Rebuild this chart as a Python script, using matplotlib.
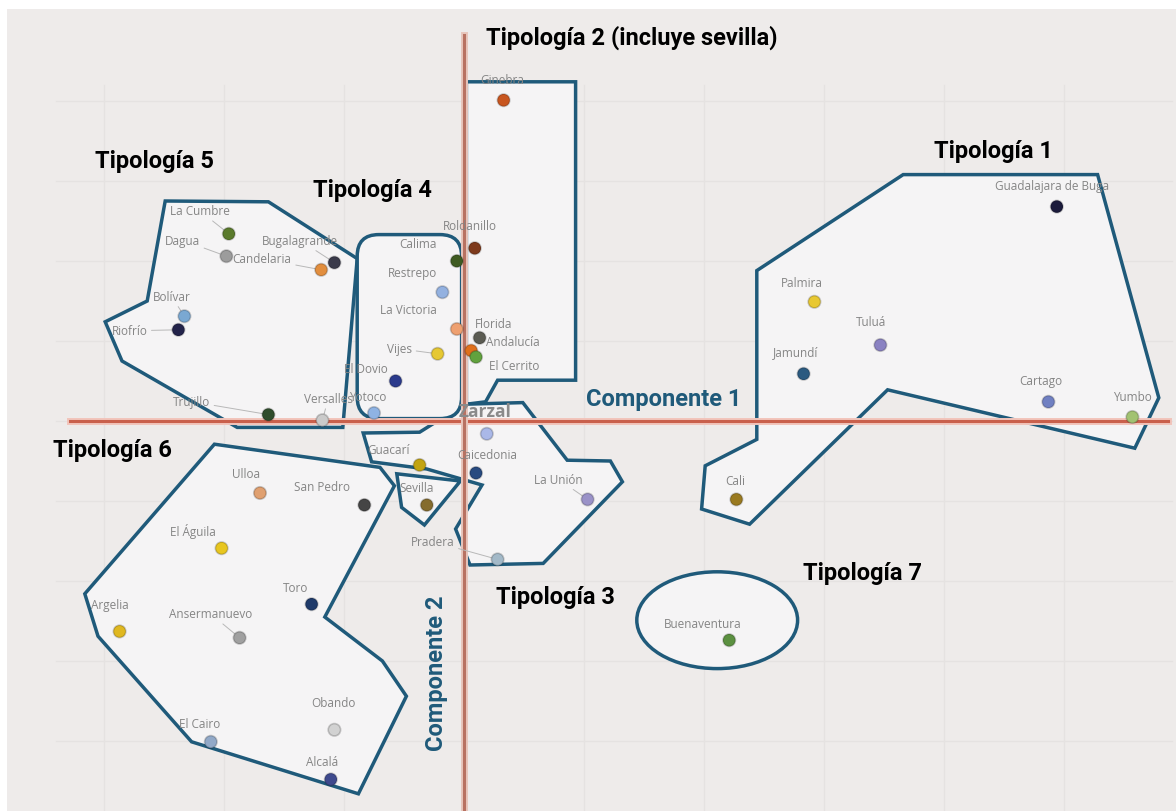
import matplotlib.pyplot as plt
from matplotlib.patches import Polygon, Ellipse, FancyBboxPatch

# component scores (Componente 1, Componente 2)
municipios = ['Ginebra', 'Roldanillo', 'Calima', 'Restrepo', 'La Victoria', 'Florida',
              'Andalucía', 'El Cerrito', 'Vijes', 'El Dovio', 'Yotoco', 'Zarzal',
              'Guacarí', 'Sevilla', 'Caicedonia', 'La Unión', 'Pradera',
              'La Cumbre', 'Dagua', 'Candelaria', 'Bugalagrande', 'Bolívar', 'Riofrío',
              'Trujillo', 'Versalles',
              'Ulloa', 'San Pedro', 'El Águila', 'Toro', 'Argelia', 'Ansermanuevo',
              'Obando', 'El Cairo', 'Alcalá',
              'Guadalajara de Buga', 'Palmira', 'Tuluá', 'Jamundí', 'Cartago', 'Yumbo',
              'Cali', 'Buenaventura']
comp1 = [0.33, 0.09, -0.06, -0.18, -0.06, 0.13,
         0.06, 0.10, -0.22, -0.57, -0.75, 0.19,
         -0.37, -0.31, 0.10, 1.03, 0.28,
         -1.96, -1.98, -1.19, -1.08, -2.33, -2.38,
         -1.63, -1.18,
         -1.70, -0.83, -2.02, -1.27, -2.87, -1.87,
         -1.08, -2.11, -1.11,
         4.94, 2.92, 3.47, 2.83, 4.87, 5.57,
         2.27, 2.21]
comp2 = [4.01, 2.16, 2.00, 1.61, 1.15, 1.04,
         0.88, 0.80, 0.84, 0.50, 0.10, -0.16,
         -0.55, -1.05, -0.65, -0.98, -1.73,
         2.34, 2.06, 1.89, 1.98, 1.31, 1.14,
         0.08, 0.01,
         -0.90, -1.05, -1.59, -2.29, -2.63, -2.71,
         -3.86, -4.01, -4.48,
         2.68, 1.49, 0.95, 0.59, 0.24, 0.05,
         -0.98, -2.74]
colores = ['#c8561f', '#7e3a1c', '#3f5b22', '#93b1e0', '#eea070', '#5b5b52',
           '#e0701c', '#62a23e', '#e6c832', '#2b3a8c', '#8fb3e3', '#aab8e8',
           '#c2a412', '#856c2e', '#284a80', '#9a92c8', '#a3b9c8',
           '#5a7a2c', '#9c9c9c', '#e28e3e', '#3a3a4a', '#7aa8d2', '#23234a',
           '#2f4d2c', '#cacaca',
           '#e0a070', '#454545', '#e8c620', '#1f3a6a', '#e0b820', '#a0a0a0',
           '#d2d2d2', '#92a9c8', '#3f4a8e',
           '#1b1b3b', '#e8c832', '#8a82c2', '#2b5a80', '#7080c2', '#a2c272',
           '#9a7a20', '#5b9040']

# hand-drawn groupings (tipologías)
tipo1_x = [3.66, 5.28, 5.79, 5.59, 3.53, 2.38, 1.98, 2.01, 2.44, 2.44]
tipo1_y = [3.08, 3.08, 0.29, -0.34, 0.39, -1.29, -1.10, -0.56, -0.23, 1.88]
tipo2_x = [0.02, 0.93, 0.93, 0.28, 0.18, 0.02]
tipo2_y = [4.24, 4.24, 0.51, 0.51, 0.24, 0.21]
tipo3_x = [-0.84, -0.77, -0.31, 0.15, -0.07, 0.05, 0.66, 1.32, 1.22, 0.86, 0.49, 0.01, -0.03, -0.37]
tipo3_y = [-0.15, -0.51, -0.60, -0.80, -1.35, -1.80, -1.78, -0.76, -0.50, -0.49, 0.23, 0.21, 0.18, -0.14]
sevilla_x = [-0.56, -0.03, -0.33, -0.52]
sevilla_y = [-0.66, -0.75, -1.30, -1.08]
tipo5_x = [-2.49, -1.63, -0.89, -1.01, -1.89, -2.85, -2.99, -2.64]
tipo5_y = [2.75, 2.74, 2.03, -0.08, -0.08, 0.75, 1.24, 1.50]
tipo6_x = [-2.08, -0.70, -0.58, -1.16, -0.68, -0.48, -0.88, -2.27, -3.05, -3.16]
tipo6_y = [-0.29, -0.58, -0.81, -2.45, -3.00, -3.44, -4.66, -4.01, -2.69, -2.16]
tipo4_box = [-0.89, 0.03, 0.87, 2.30]  # x0, y0, width, height
tipo7_ellipse = [2.11, -2.49, 1.34, 1.21]  # cx, cy, width, height

# label offsets from each dot, in pixels
label_off = {
    'Ginebra': (-1, 21), 'Roldanillo': (-5, 23), 'Calima': (-39, 17), 'Restrepo': (-30, 20),
    'La Victoria': (-48, 19), 'Florida': (14, 14), 'Andalucía': (42, 9), 'El Cerrito': (38, -9),
    'Vijes': (-38, 5), 'El Dovio': (-30, 12), 'Yotoco': (-6, 16), 'Zarzal': (-2, 23),
    'Guacarí': (-31, 15), 'Sevilla': (-10, 17), 'Caicedonia': (11, 18), 'La Unión': (-29, 20),
    'Pradera': (-65, 18), 'La Cumbre': (-29, 23), 'Dagua': (-44, 16), 'Candelaria': (-59, 11),
    'Bugalagrande': (-34, 22), 'Bolívar': (-13, 20), 'Riofrío': (-49, -1), 'Trujillo': (-77, 13),
    'Versalles': (6, 22), 'Ulloa': (-14, 19), 'San Pedro': (-42, 18), 'El Águila': (-29, 18),
    'Toro': (-16, 17), 'Argelia': (-10, 27), 'Ansermanuevo': (-29, 24), 'Obando': (-1, 27),
    'El Cairo': (-11, 18), 'Alcalá': (-9, 18), 'Guadalajara de Buga': (-5, 21),
    'Palmira': (-13, 19), 'Tuluá': (-9, 23), 'Jamundí': (-8, 22), 'Cartago': (-8, 21),
    'Yumbo': (0, 20), 'Cali': (-1, 19), 'Buenaventura': (-26, 17),
}
leaders = ['Trujillo', 'Riofrío', 'Dagua', 'Candelaria', 'Bugalagrande', 'Pradera',
           'La Unión', 'Ansermanuevo', 'Versalles', 'Bolívar', 'Vijes', 'La Cumbre']

BG = '#eeebea'
FILL = '#f5f4f5'
EDGE = '#1f5a7a'
AXIS = '#c9604c'

fig = plt.figure(figsize=(11.76, 8.12), dpi=100, facecolor='white')
ax = fig.add_axes([7 / 1176, 0, 1 - 7 / 1176, 802 / 812])
ax.set_facecolor(BG)
ax.set_xlim((7 - 464) / 120, (1176 - 464) / 120)
ax.set_ylim((422 - 812) / 80, (422 - 10) / 80)
for s in ax.spines.values():
    s.set_visible(False)
ax.set_xticks([])
ax.set_yticks([])

# faint grid
for gx in range(-3, 6):
    ax.plot([gx, gx], [-4.9, 4.2], color='#e5e2e1', lw=1, zorder=0)
for gy in range(-4, 5):
    ax.plot([-3.4, 5.9], [gy, gy], color='#e5e2e1', lw=1, zorder=0)

# groups
poly_kw = dict(closed=True, facecolor=FILL, edgecolor=EDGE, lw=2.5, zorder=1)
for px, py in [(tipo1_x, tipo1_y), (tipo2_x, tipo2_y), (tipo3_x, tipo3_y),
               (tipo5_x, tipo5_y), (tipo6_x, tipo6_y), (sevilla_x, sevilla_y)]:
    ax.add_patch(Polygon(list(zip(px, py)), **poly_kw))
bx, by, bw, bh = tipo4_box
ax.add_patch(FancyBboxPatch((bx, by), bw, bh, boxstyle='round,pad=0,rounding_size=0.18',
                            mutation_aspect=1.5, facecolor=FILL, edgecolor=EDGE, lw=2.5, zorder=1))
ex, ey, ew, eh = tipo7_ellipse
ax.add_patch(Ellipse((ex, ey), ew, eh, facecolor=FILL, edgecolor=EDGE, lw=2.5, zorder=1))

# component axes
ax.plot([(70 - 464) / 120, (1168 - 464) / 120], [0, 0], color='#f2c4bb', lw=5, zorder=2)
ax.plot([(70 - 464) / 120, (1168 - 464) / 120], [0, 0], color=AXIS, lw=2.2, zorder=2)
ax.plot([0, 0], [(422 - 36) / 80, -5], color='#e8c6bc', lw=5, zorder=2)
ax.plot([0, 0], [(422 - 36) / 80, -5], color='#b87262', lw=2.2, zorder=2)

# points and labels
ax.scatter(comp1, comp2, s=80, c=colores, edgecolors='#00000030', linewidths=1.2, zorder=4)
for name, x, y in zip(municipios, comp1, comp2):
    dx, dy = label_off[name]
    big = name == 'Zarzal'
    arrow = dict(arrowstyle='-', color='#b8b8b8', lw=0.7, shrinkA=1, shrinkB=4) if name in leaders else None
    ax.annotate(name, (x, y), xytext=(dx, dy), textcoords='offset pixels',
                ha='center', va='center', fontsize=12.5 if big else 8.5,
                family='Open Sans', color='#8a8a8a' if big else '#858585',
                fontweight='bold' if big else 'normal', arrowprops=arrow, zorder=3)

# group titles
title_kw = dict(family='Roboto', fontweight='bold', color='black', ha='center', va='center',
                fontsize=17, zorder=5)
ax.text(1.40, 4.80, 'Tipología 2 (incluye sevilla)', **title_kw)
ax.text(-2.58, 3.26, 'Tipología 5', **title_kw)
ax.text(-0.76, 2.90, 'Tipología 4', **title_kw)
ax.text(4.41, 3.38, 'Tipología 1', **title_kw)
ax.text(-2.93, -0.36, 'Tipología 6', **title_kw)
ax.text(0.76, -2.19, 'Tipología 3', **title_kw)
ax.text(3.32, -1.90, 'Tipología 7', **title_kw)

ax.text(1.66, 0.28, 'Componente 1', family='Roboto', fontweight='bold', color=EDGE,
        fontsize=17, ha='center', va='center', zorder=5)
ax.text(-0.23, -3.14, 'Componente 2', family='Roboto', fontweight='bold', color=EDGE,
        fontsize=17, ha='center', va='center', rotation=90, zorder=5)

fig.savefig('out.png', dpi=100, facecolor='white')
